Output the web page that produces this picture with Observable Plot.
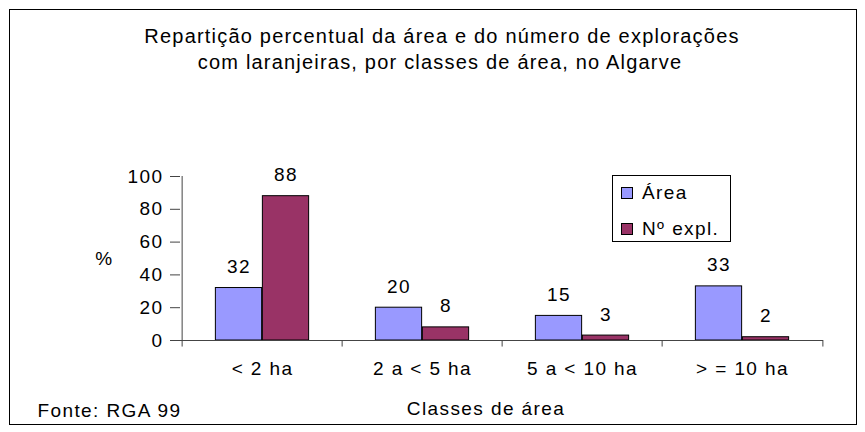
<!DOCTYPE html>
<html>
<head>
<meta charset="utf-8">
<script src="https://cdn.jsdelivr.net/npm/d3@7"></script>
<script src="https://cdn.jsdelivr.net/npm/@observablehq/plot@0.6"></script>
<style>
  body { margin: 0; background: #fff; font-family: "Liberation Sans", Arial, sans-serif; }
  #wrap { position: relative; width: 865px; height: 432px; overflow: hidden; background: #fff; }
  #wrap svg { position: absolute; left: 0; top: 0; }
  #frame { position: absolute; left: 9px; top: 9px; width: 846px; height: 414px; border: 1px solid #000; pointer-events: none; }
  .title { position: absolute; white-space: nowrap; font-size: 20px; line-height: 26px; letter-spacing: 1.2px; color: #000; transform: translateX(-50%); }
  #legend { position: absolute; left: 612px; top: 175px; width: 117px; height: 65px; border: 1px solid #000; background: #fff; font-size: 19px; letter-spacing: 1.4px; color: #000; }
  #legend .row { position: absolute; left: 8px; height: 20px; display: flex; align-items: center; white-space: nowrap; }
  #legend .sw { width: 10px; height: 10px; border: 1px solid #000; margin-right: 9px; flex: none; }
</style>
</head>
<body>
<div id="wrap">
  <div id="frame"></div>
</div>
<script>
// ---- data ----
const titleLines = [
  "Repartição percentual da área e do número de explorações",
  "com laranjeiras, por classes de área, no Algarve"
];
const classes = ["< 2 ha", "2 a < 5 ha", "5 a < 10 ha", "> = 10 ha"];
const seriesNames = ["Área", "Nº expl."];
const areaValues = [32, 20, 15, 33];
const explValues = [88, 8, 3, 2];
const yTicks = [0, 20, 40, 60, 80, 100];
const seriesColors = ["#9999FF", "#993366"];
const yLabel = "%";
const xLabel = "Classes de área";
const sourceNote = "Fonte: RGA 99";

// ---- layout ----
const W = 865, H = 432, ML = 180, MR = 42, MT = 176, MB = 92;
const bw = (W - ML - MR) / classes.length;
const barW = 47;
const gap = (bw - 2 * barW) / 2;
const fs = 19;

const rows = classes.flatMap((c, i) => [
  {cls: c, series: seriesNames[0], value: areaValues[i]},
  {cls: c, series: seriesNames[1], value: explValues[i]}
]);
const areaRows = rows.filter(d => d.series === seriesNames[0]);
const explRows = rows.filter(d => d.series === seriesNames[1]);

const axisColor = "#444";

const chart = Plot.plot({
  width: W, height: H,
  marginLeft: ML, marginRight: MR, marginTop: MT, marginBottom: MB,
  style: {fontFamily: "'Liberation Sans', Arial, sans-serif", fontSize: fs + "px", letterSpacing: "1.4px", background: "transparent", color: "#000"},
  x: {type: "band", domain: classes, paddingInner: 0, paddingOuter: 0, axis: null},
  y: {domain: [0, 100], axis: null},
  color: {domain: seriesNames, range: seriesColors},
  marks: [
    // y axis
    Plot.axisY({ticks: yTicks, tickSize: 10, tickPadding: 7, tickFormat: d => String(d), label: null, fontSize: fs, stroke: axisColor}),
    Plot.ruleX([classes[0]], {x: d => d, dx: -bw / 2, y1: 0, y2: 100, stroke: axisColor}),
    // bars
    Plot.barY(areaRows, {x: "cls", y: "value", fill: "series", stroke: "#000", strokeWidth: 1, insetLeft: gap, insetRight: gap + barW}),
    Plot.barY(explRows, {x: "cls", y: "value", fill: "series", stroke: "#000", strokeWidth: 1, insetLeft: gap + barW, insetRight: gap}),
    // x axis baseline & boundary ticks
    Plot.ruleY([0], {stroke: axisColor}),
    Plot.ruleX(classes, {x: d => d, dx: -bw / 2, y1: 0, y2: -4, stroke: axisColor}),
    Plot.ruleX([classes[classes.length - 1]], {x: d => d, dx: bw / 2, y1: 0, y2: -4, stroke: axisColor}),
    Plot.axisX({tickSize: 0, tickPadding: 21, label: null, fontSize: fs}),
    // value labels
    Plot.text(areaRows, {x: "cls", y: "value", text: d => String(d.value), dx: -barW / 2, dy: -21, fontSize: fs, lineAnchor: "middle", fill: "#000"}),
    Plot.text(explRows, {x: "cls", y: "value", text: d => String(d.value), dx: barW / 2, dy: -21, fontSize: fs, lineAnchor: "middle", fill: "#000"}),
    // axis titles & source
    Plot.text([yLabel], {frameAnchor: "left", textAnchor: "middle", dx: -76, fontSize: fs, fill: "#000"}),
    Plot.text([xLabel], {frameAnchor: "bottom", textAnchor: "middle", lineAnchor: "middle", dx: -16, dy: 68, fontSize: fs, fill: "#000"}),
    Plot.text([sourceNote], {frameAnchor: "bottom-left", textAnchor: "start", lineAnchor: "middle", dx: 37 - ML, dy: 70, fontSize: fs, fill: "#000"})
  ]
});

const wrap = document.getElementById("wrap");
wrap.insertBefore(chart, wrap.firstChild);

// title
const centers = [442, 440];
titleLines.forEach((t, i) => {
  const d = document.createElement("div");
  d.className = "title";
  d.style.left = centers[i] + "px";
  d.style.top = (23 + i * 26) + "px";
  d.textContent = t;
  wrap.appendChild(d);
});

// legend
const leg = document.createElement("div");
leg.id = "legend";
seriesNames.forEach((s, i) => {
  const r = document.createElement("div");
  r.className = "row";
  r.style.top = (7 + i * 36) + "px";
  const sw = document.createElement("span");
  sw.className = "sw";
  sw.style.background = seriesColors[i];
  const tx = document.createElement("span");
  tx.textContent = s;
  r.appendChild(sw);
  r.appendChild(tx);
  leg.appendChild(r);
});
wrap.appendChild(leg);
</script>
</body>
</html>
